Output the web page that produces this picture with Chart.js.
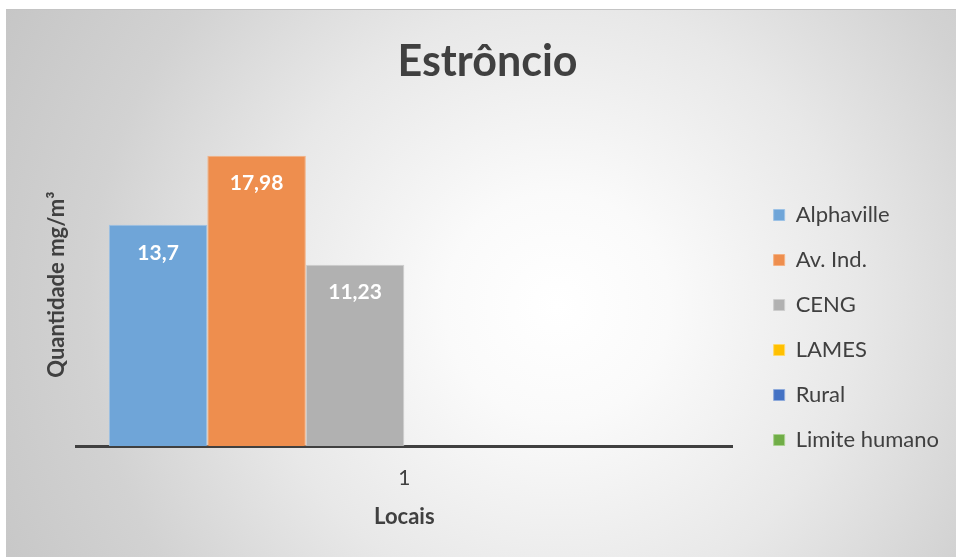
<!DOCTYPE html>
<html>
<head>
<meta charset="utf-8">
<script src="https://cdn.jsdelivr.net/npm/chart.js@4.4.1/dist/chart.umd.min.js"></script>
<style>
    html, body { margin: 0; padding: 0; background: #fff; }
    .panel {
        position: absolute;
        left: 6px;
        top: 9px;
        width: 950px;
        height: 548px;
        border-top: 1px solid #c4c4c4;
        background: radial-gradient(circle at 58% 54%, #ffffff 0%, #fafafa 18%, #e8e8e8 48%, #d2d2d2 75%, #c6c6c6 100%);
    }
    canvas { display: block; }
</style>
</head>
<body>
<div class="panel">
    <canvas id="chart" width="950" height="547"></canvas>
</div>
<script>
// Chart data
const categories = ['1'];
const seriesNames = ['Alphaville', 'Av. Ind.', 'CENG', 'LAMES', 'Rural', 'Limite humano'];
const seriesValues = [[13.7], [17.98], [11.23], [null], [null], [null]];
const seriesColors = ['#6fa5d8', '#ee8e4e', '#b1b1b1', '#ffc000', '#4472c4', '#70ad47'];
const edgeColors = ['#9cc2e6', '#f4b183', '#cdcdcd', '#ffd966', '#8eaadb', '#a9d18e'];

Chart.defaults.font.family = 'Lato';
Chart.defaults.color = '#404040';

// Value labels inside the top of each bar
const barLabels = {
    id: 'barLabels',
    afterDatasetsDraw(chart) {
        const ctx = chart.ctx;
        ctx.save();
        ctx.font = 'bold 21px Lato';
        ctx.fillStyle = '#ffffff';
        ctx.textAlign = 'center';
        ctx.textBaseline = 'middle';
        chart.data.datasets.forEach((ds, i) => {
            const meta = chart.getDatasetMeta(i);
            meta.data.forEach((bar, j) => {
                const v = ds.data[j];
                if (v === null || v === undefined) return;
                ctx.fillText(String(v).replace('.', ','), bar.x, bar.y + 28);
            });
        });
        ctx.restore();
    }
};

new Chart(document.getElementById('chart'), {
    type: 'bar',
    data: {
        labels: categories,
        datasets: seriesNames.map((name, i) => ({
            label: name,
            data: seriesValues[i],
            backgroundColor: seriesColors[i],
            borderColor: edgeColors[i],
            borderWidth: 1
        }))
    },
    options: {
        responsive: false,
        animation: false,
        layout: { padding: { left: 20, right: 7, top: 0, bottom: 18 } },
        datasets: { bar: { barPercentage: 1, categoryPercentage: 0.9 } },
        plugins: {
            title: {
                display: true,
                text: 'Estrôncio',
                color: '#404040',
                font: { size: 43, weight: 'bold' },
                padding: { top: 26.5, bottom: 35 }
            },
            legend: {
                position: 'right',
                align: 'start',
                title: { display: true, text: '', font: { size: 12 }, padding: { top: 156.6, bottom: 0 } },
                labels: {
                    boxWidth: 11,
                    boxHeight: 11,
                    padding: 23,
                    color: '#404040',
                    font: { size: 22 }
                }
            },
            tooltip: { enabled: false }
        },
        scales: {
            x: {
                grid: { display: true, color: 'rgba(0,0,0,0)', drawTicks: false },
                border: { display: true, color: '#404040', width: 3 },
                ticks: { padding: 19.4, color: '#404040', font: { size: 21 } },
                title: {
                    display: true,
                    text: 'Locais',
                    color: '#404040',
                    font: { size: 22, weight: 'bold' },
                    padding: { top: -6.2, bottom: 8.8 }
                }
            },
            y: {
                min: 0,
                max: 20,
                grid: { display: false },
                border: { display: false },
                ticks: { display: false },
                title: {
                    display: true,
                    text: 'Quantidade mg/m³',
                    color: '#404040',
                    font: { size: 22, weight: 'bold' },
                    padding: { top: 17.8, bottom: -2.2 }
                }
            },
            spacer: {
                type: 'linear',
                position: 'right',
                display: false,
                afterFit: s => { s.width = 18; }
            }
        }
    },
    plugins: [barLabels]
});
</script>
</body>
</html>
